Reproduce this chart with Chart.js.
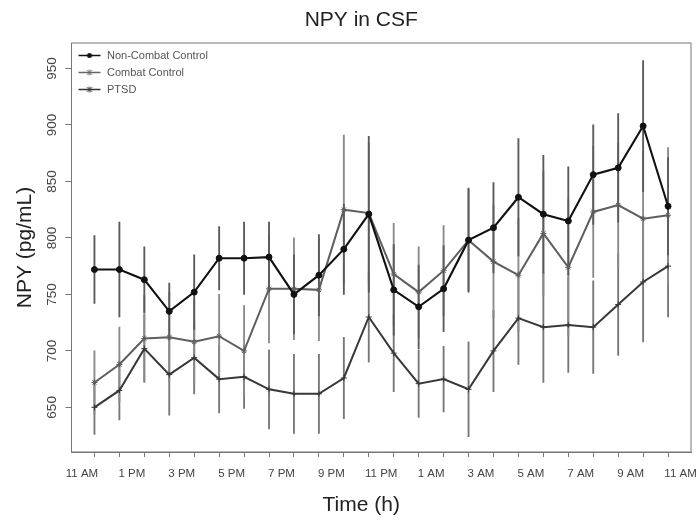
<!DOCTYPE html>
<html>
<head>
<meta charset="utf-8">
<title>NPY in CSF</title>
<script src="https://cdn.jsdelivr.net/npm/chart.js@4.4.0/dist/chart.umd.min.js"></script>
<style>
html, body { margin: 0; padding: 0; background: #fff; }
</style>
</head>
<body>
<canvas id="npyChart" width="696" height="527"></canvas>
<script>
// sampling times, hours after 11 AM
const hours = [0.5, 1.5, 2.5, 3.5, 4.5, 5.5, 6.5, 7.5, 8.5, 9.5, 10.5, 11.5,
               12.5, 13.5, 14.5, 15.5, 16.5, 17.5, 18.5, 19.5, 20.5, 21.5, 22.5, 23.5];

const tickHours = [0, 1, 2, 3, 4, 5, 6, 7, 8, 9, 10, 11, 12,
                   13, 14, 15, 16, 17, 18, 19, 20, 21, 22, 23, 24];
const hourLabels = ["11 AM", "1 PM", "3 PM", "5 PM", "7 PM", "9 PM", "11 PM",
                    "1 AM", "3 AM", "5 AM", "7 AM", "9 AM", "11 AM"];
const yTicks = [650, 700, 750, 800, 850, 900, 950];

const seriesNames = ["Non-Combat Control", "Combat Control", "PTSD"];

const nonCombat = [772, 772, 763, 735, 752, 782, 782, 783, 750, 767, 790, 821,
                   754, 739, 755, 798, 809, 836, 821, 815, 856, 862, 899, 828];
const nonCombatErr = [30, 42, 29, 25, 33, 28, 32, 31, 35, 36, 40, 69,
                      40, 37, 38, 46, 40, 52, 52, 48, 44, 48, 58, 43];

const combat = [672, 688, 711, 712, 708, 713, 700, 755, 755, 754, 825, 822,
                768, 752, 771, 798, 779, 767, 804, 774, 823, 829, 817, 820];
const combatErr = [28, 33, 38, 40, 38, 37, 40, 48, 45, 45, 66, 62,
                   45, 40, 40, 45, 50, 50, 55, 60, 58, 55, 60, 60];

const ptsd = [650, 665, 702, 679, 694, 675, 677, 666, 662, 662, 676, 730,
              698, 671, 675, 666, 700, 729, 721, 723, 721, 741, 761, 775];
const ptsdErr = [24, 26, 30, 36, 32, 30, 28, 35, 35, 35, 36, 40,
                 34, 30, 29, 42, 36, 41, 49, 42, 41, 45, 53, 45];

Chart.defaults.font.family = "'Liberation Sans', Arial, sans-serif";

function legendMark(color, shape){
    const c = document.createElement("canvas");
    c.width = 24;
    c.height = 9;
    const g = c.getContext("2d");
    g.strokeStyle = color;
    g.fillStyle = color;
    g.lineWidth = 1.5;
    g.beginPath();
    g.moveTo(1, 4.5);
    g.lineTo(23, 4.5);
    g.stroke();
    if(shape === "circle"){
        g.beginPath();
        g.arc(12, 4.5, 2.5, 0, Math.PI * 2);
        g.fill();
    } else {
        g.lineWidth = 1;
        g.beginPath();
        g.moveTo(12, 1.5);
        g.lineTo(12, 7.5);
        g.moveTo(9.5, 2);
        g.lineTo(14.5, 7);
        g.moveTo(14.5, 2);
        g.lineTo(9.5, 7);
        g.stroke();
    }
    return c;
}

const legendMarks = [
    legendMark("#111", "circle"),
    legendMark("#666", "star"),
    legendMark("#333", "cross")
];

function lineSeries(name, values, color, width, style){
    return {
        type: "line",
        label: name,
        data: hours.map((h, i) => ({ x: h, y: values[i] })),
        borderColor: color,
        backgroundColor: color,
        borderWidth: width,
        pointStyle: style,
        pointRadius: 3,
        pointBorderWidth: 1,
        pointBackgroundColor: color,
        pointBorderColor: color,
        tension: 0,
        order: 0
    };
}

function errorBars(name, values, errs, color){
    return {
        type: "bar",
        label: name + " SEM",
        data: hours.map((h, i) => ({ x: h, y: [values[i] - errs[i], values[i] + errs[i]] })),
        backgroundColor: color,
        borderWidth: 0,
        barThickness: 1.2,
        grouped: false,
        order: 1
    };
}

const framePlugin = {
    id: "frame",
    afterDatasetsDraw(chart){
        const a = chart.chartArea;
        const ctx = chart.ctx;
        ctx.save();
        ctx.strokeStyle = "#777";
        ctx.lineWidth = 1;
        ctx.strokeRect(a.left, a.top, a.right - a.left, a.bottom - a.top);
        ctx.restore();
    }
};

const titleFont = { size: 21, weight: "normal" };

new Chart(document.getElementById("npyChart").getContext("2d"), {
    type: "line",
    data: {
        datasets: [
            lineSeries(seriesNames[0], nonCombat, "#111", 2.1, "circle"),
            lineSeries(seriesNames[1], combat, "#5e5e5e", 2, "star"),
            lineSeries(seriesNames[2], ptsd, "#383838", 2, "cross"),
            errorBars(seriesNames[0], nonCombat, nonCombatErr, "#5a5a5a"),
            errorBars(seriesNames[1], combat, combatErr, "#8a8a8a"),
            errorBars(seriesNames[2], ptsd, ptsdErr, "#777")
        ]
    },
    options: {
        responsive: false,
        animation: false,
        layout: {
            padding: { left: 30, right: 3.5, top: 0, bottom: 0 }
        },
        plugins: {
            title: {
                display: true,
                text: "NPY in CSF",
                color: "#222",
                font: titleFont,
                padding: { top: 8, bottom: 9.8 }
            },
            subtitle: {
                display: true,
                position: "bottom",
                text: "Time (h)",
                color: "#222",
                font: titleFont,
                padding: { top: 0.4, bottom: 9.4 }
            },
            legend: {
                position: "chartArea",
                align: "start",
                // empty title only pushes the entries down into the plot box
                title: {
                    display: true,
                    text: " ",
                    font: { size: 10 },
                    padding: { top: 32, bottom: 0 }
                },
                labels: {
                    usePointStyle: true,
                    pointStyleWidth: 24,
                    padding: 6,
                    color: "#555",
                    font: { size: 11 },
                    filter: (item) => item.datasetIndex < 3,
                    generateLabels: function(chart){
                        const items = Chart.defaults.plugins.legend.labels.generateLabels(chart);
                        items.forEach(item => {
                            item.pointStyle = legendMarks[item.datasetIndex];
                        });
                        return items;
                    }
                }
            },
            tooltip: { enabled: false }
        },
        scales: {
            x: {
                type: "linear",
                min: -0.42,
                max: 24.42,
                offset: false,
                afterBuildTicks: (scale) => {
                    scale.ticks = tickHours.map(v => ({ value: v }));
                },
                afterFit: (scale) => {
                    scale.height = 40;
                    scale.paddingLeft = 0;
                    scale.paddingRight = 0;
                },
                grid: { drawOnChartArea: false, drawTicks: true, tickLength: 5, color: "#777" },
                border: { display: true, color: "#777" },
                ticks: {
                    autoSkip: false,
                    minRotation: 0,
                    maxRotation: 0,
                    padding: 10,
                    color: "#444",
                    font: { size: 11.5 },
                    callback: (value) => value % 2 === 0 ? hourLabels[value / 2] : ""
                }
            },
            y: {
                min: 610.5,
                max: 972.5,
                afterBuildTicks: (scale) => {
                    scale.ticks = yTicks.map(v => ({ value: v }));
                },
                afterFit: (scale) => {
                    scale.width = 41.5;
                    scale.paddingTop = 0;
                    scale.paddingBottom = 0;
                },
                grid: { drawOnChartArea: false, drawTicks: true, tickLength: 6, color: "#777" },
                border: { display: true, color: "#777" },
                ticks: {
                    minRotation: 90,
                    maxRotation: 90,
                    crossAlign: "center",
                    padding: 2.2,
                    color: "#444",
                    font: { size: 13.5 }
                },
                title: {
                    display: true,
                    text: "NPY (pg/mL)",
                    color: "#222",
                    font: titleFont,
                    padding: { top: -17.6, bottom: 0 }
                }
            }
        }
    },
    plugins: [framePlugin]
});
</script>
</body>
</html>
